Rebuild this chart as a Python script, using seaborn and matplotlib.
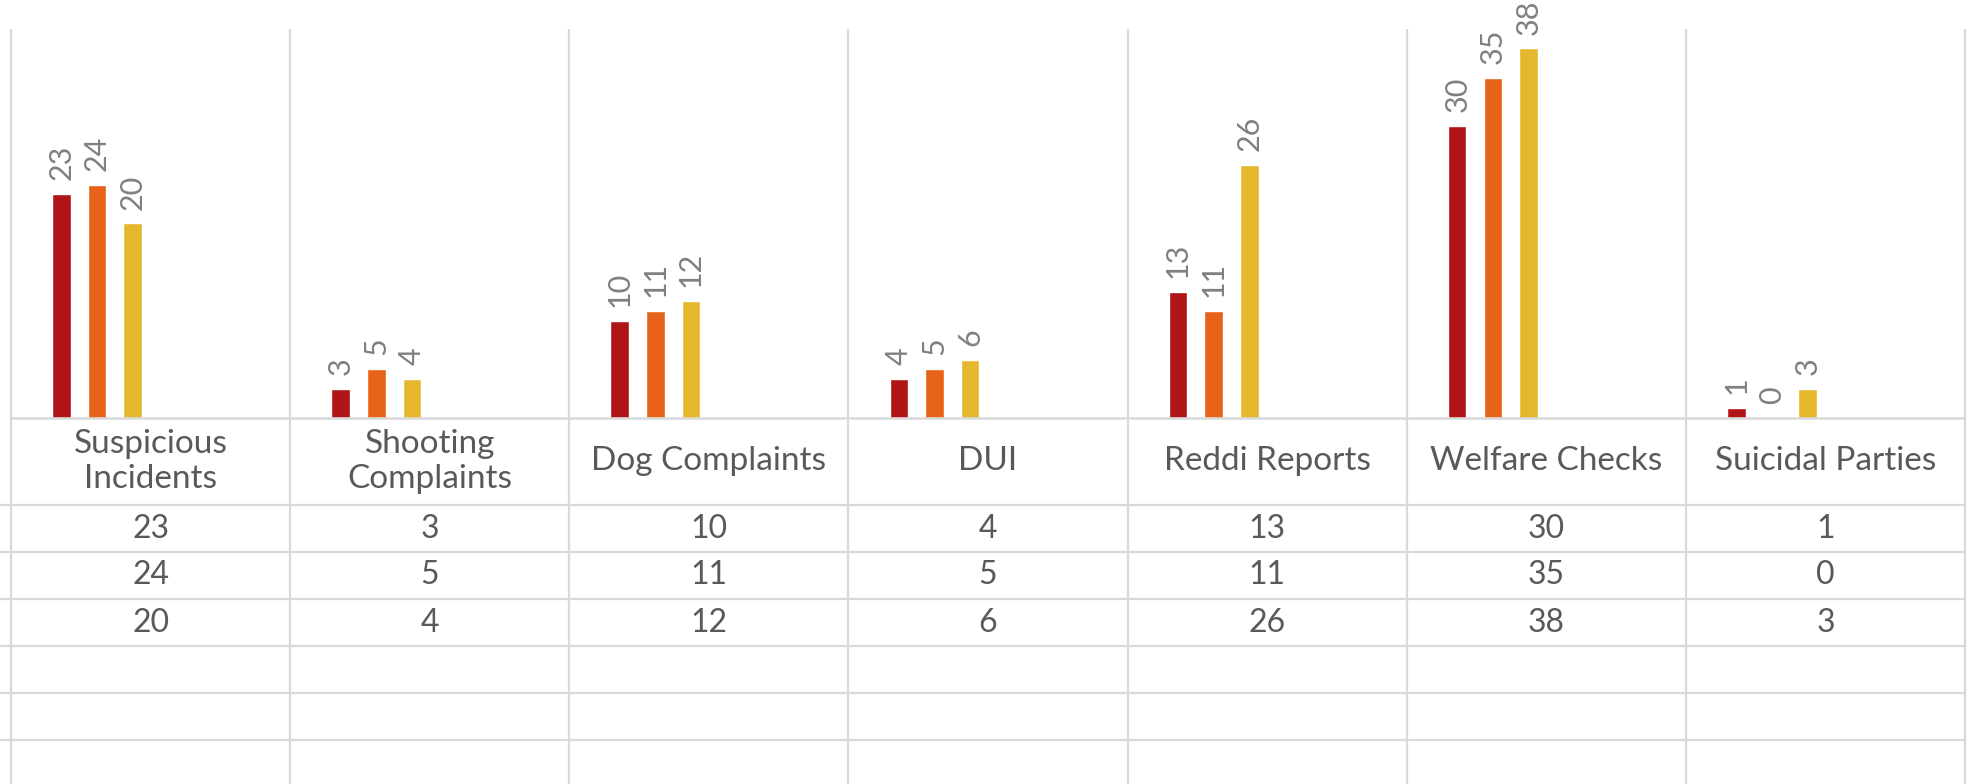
import textwrap
import pandas as pd
import matplotlib
matplotlib.use("Agg")
import matplotlib.pyplot as plt
import seaborn as sns

# dados do gráfico
categories = ["Suspicious Incidents", "Shooting Complaints", "Dog Complaints", "DUI",
              "Reddi Reports", "Welfare Checks", "Suicidal Parties"]
series_names = ["January", "February", "March", "April", "May", "June"]
january = [23, 3, 10, 4, 13, 30, 1]
february = [24, 5, 11, 5, 11, 35, 0]
march = [20, 4, 12, 6, 26, 38, 3]
filled = {"January": january, "February": february, "March": march}

colors = ["#B01416", "#E8631A", "#E4B72D", "#8C8C8C", "#BFBFBF", "#D9D9D9"]
grid_c = "#D9D9D9"
text_c = "#595959"
label_c = "#808080"

rows = []
for name, vals in filled.items():
    for cat, v in zip(categories, vals):
        rows.append({"category": cat, "series": name, "count": v})
df = pd.DataFrame(rows)

sns.set_style("white")
plt.rcParams["font.family"] = ["Lato", "DejaVu Sans"]

W, H = 1968, 784
fig = plt.figure(figsize=(W / 100, H / 100), dpi=100)
base_px = 418
top_px = 29
col_px = (1965 - 11) / len(categories)
xlim = (-0.5 - 11 / col_px, 6.5 + 3 / col_px)

# área das barras
ax = fig.add_axes([0, (H - base_px) / H, 1, (base_px - top_px) / H])
sns.barplot(data=df, x="category", y="count", hue="series", order=categories,
            hue_order=series_names, palette=colors, saturation=1,
            width=0.766, gap=0.48, legend=False, ax=ax)
for c in ax.containers:
    ax.bar_label(c, fmt="{:.0f}", rotation=90, padding=10, color=label_c, fontsize=22)
ax.set_xlim(*xlim)
ax.set_ylim(0, 40)
ax.set_axis_off()
bounds = [i - 0.5 for i in range(len(categories) + 1)]
ax.vlines(bounds, 0, 40, color=grid_c, lw=1.6, clip_on=False, zorder=0)
ax.hlines(0, -0.5, 6.5, color=grid_c, lw=1.8, clip_on=False, zorder=3)

# tabela de dados
tab = fig.add_axes([0, 0, 1, (H - base_px) / H])
tab.set_xlim(*xlim)
tab.set_ylim(H - base_px, 0)
tab.set_axis_off()
header_h, row_h = 87, 47
row_lines = [header_h + i * row_h for i in range(6)]
tab.vlines(bounds, 0, H - base_px, color=grid_c, lw=1.6, clip_on=False)
tab.hlines(row_lines, xlim[0], 6.5, color=grid_c, lw=1.6, clip_on=False)

for i, cat in enumerate(categories):
    tab.text(i, header_h / 2, textwrap.fill(cat, 16), ha="center", va="center",
             fontsize=24, color=text_c, linespacing=1.2)
for r, vals in enumerate(filled.values()):
    y = header_h + r * row_h + row_h / 2
    for i, v in enumerate(vals):
        tab.text(i, y, str(v), ha="center", va="center", fontsize=23, color=text_c)

plt.savefig("out.png", dpi=100)
